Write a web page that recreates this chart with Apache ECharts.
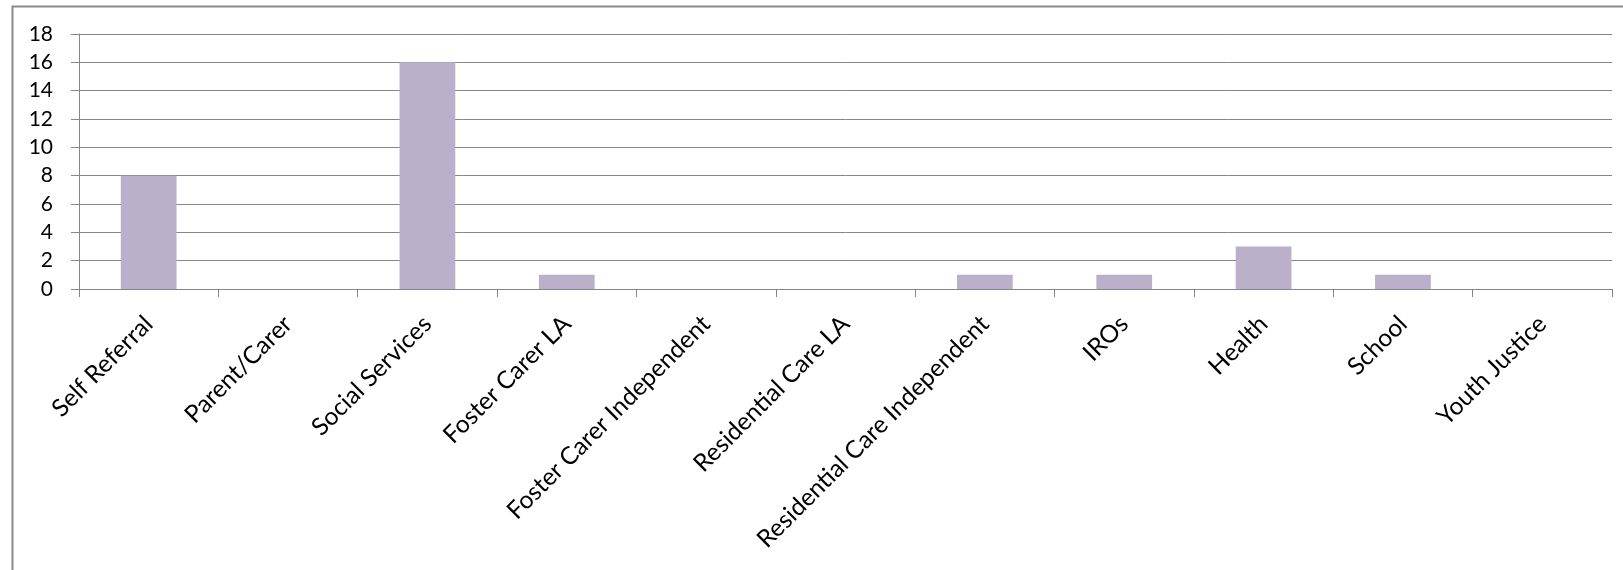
<!DOCTYPE html>
<html>
<head>
<meta charset="utf-8">
<script src="https://cdn.jsdelivr.net/npm/echarts@6/dist/echarts.min.js"></script>
<style>
html,body{margin:0;padding:0;background:#fff;}
#chart{width:1623px;height:570px;}
</style>
</head>
<body>
<div id="chart"></div>
<script>
var categories = ['Self Referral','Parent/Carer','Social Services','Foster Carer LA','Foster Carer Independent','Residential Care LA','Residential Care Independent','IROs','Health','School','Youth Justice'];
var values = [8, 0, 16, 1, 0, 0, 1, 1, 3, 1, 0];
var yTicks = [0, 2, 4, 6, 8, 10, 12, 14, 16, 18];

var chart = echarts.init(document.getElementById('chart'), null, {renderer:'canvas'});
var gray = '#868686';
var font = 'Lato, "Open Sans", sans-serif';
chart.setOption({
  animation: false,
  backgroundColor: '#ffffff',
  graphic: [{
    type: 'rect', left: 10, top: 4, z: -1,
    shape: {x: 0, y: 0, width: 1700, height: 700},
    style: {fill: 'none', stroke: '#8a8a8a', lineWidth: 2}
  }],
  grid: {left: 79, top: 34, right: 11, bottom: 281, containLabel: false},
  xAxis: {
    type: 'category',
    data: categories,
    axisLine: {show: true, lineStyle: {color: gray, width: 1}},
    axisTick: {show: true, length: 8, alignWithLabel: false, lineStyle: {color: gray}},
    axisLabel: {interval: 0, rotate: 45, fontSize: 24.5, fontFamily: font, color: '#000', margin: 31, padding: [31, 0, 0, 0]}
  },
  yAxis: {
    type: 'value',
    min: yTicks[0], max: yTicks[yTicks.length - 1], interval: 2,
    axisLine: {show: true, lineStyle: {color: gray, width: 1}},
    axisTick: {show: true, length: 8, lineStyle: {color: gray}},
    splitLine: {show: true, lineStyle: {color: gray, width: 1}},
    axisLabel: {fontSize: 21, fontFamily: font, color: '#000', margin: 26}
  },
  series: [{
    type: 'bar',
    data: values,
    barCategoryGap: '60%',
    itemStyle: {color: '#BAB0CA'}
  }]
});
</script>
</body>
</html>
